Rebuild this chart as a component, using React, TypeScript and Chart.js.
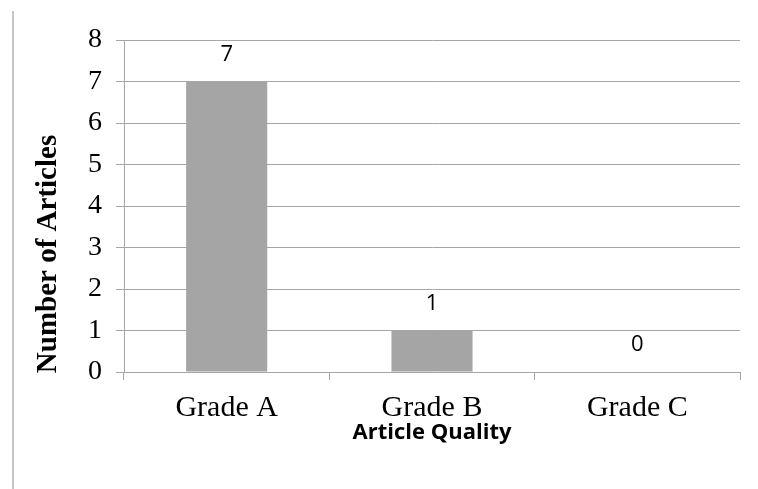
import React, { useEffect, useRef } from "react";
import { Chart, registerables } from "chart.js";

Chart.register(...registerables);

const categories = ["Grade A", "Grade B", "Grade C"];
const articleCounts = [7, 1, 0];
const yMin = 0;
const yMax = 8;
const yStep = 1;
const yAxisTitle = "Number of Articles";
const xAxisTitle = "Article Quality";

const GRID = "#a6a6a6";
const BAR = "#a5a5a5";

export default function App() {
  const ref = useRef<HTMLCanvasElement>(null);

  useEffect(() => {
    if (!ref.current) return;
    const overlay = {
      id: "overlay",
      afterDatasetsDraw(chart: any) {
        const ctx = chart.ctx;
        const area = chart.chartArea;
        ctx.save();
        // data labels
        const meta = chart.getDatasetMeta(0);
        ctx.font = '22px "Open Sans"';
        ctx.fillStyle = "#000";
        ctx.textAlign = "center";
        ctx.textBaseline = "middle";
        meta.data.forEach((bar: any, i: number) => {
          ctx.fillText(String(articleCounts[i]), bar.x, bar.y - 27);
        });
        // x title
        ctx.font = 'bold 22px "Open Sans"';
        ctx.fillText(xAxisTitle, (area.left + area.right) / 2, area.bottom + 61);
        // y title
        ctx.save();
        ctx.translate(area.left - 75, area.bottom - 118);
        ctx.rotate(-Math.PI / 2);
        ctx.font = 'bold 29px "Liberation Serif"';
        ctx.fillText(yAxisTitle, 0, 0);
        ctx.restore();
        // left border line
        ctx.strokeStyle = "#b3b3b3";
        ctx.lineWidth = 1.5;
        ctx.beginPath();
        ctx.moveTo(13, 11);
        ctx.lineTo(13, chart.height);
        ctx.stroke();
        ctx.restore();
      },
    };

    const chart = new Chart(ref.current, {
      type: "bar",
      data: {
        labels: categories,
        datasets: [
          {
            data: articleCounts,
            backgroundColor: BAR,
            borderWidth: 0,
            categoryPercentage: 1,
            barPercentage: 0.395,
          },
        ],
      },
      options: {
        responsive: false,
        animation: false,
        layout: { padding: { top: 40, right: 18, left: 0, bottom: 0 } },
        plugins: {
          legend: { display: false },
          tooltip: { enabled: false },
        },
        scales: {
          x: {
            grid: {
              offset: true,
              drawOnChartArea: false,
              drawTicks: true,
              tickLength: 8,
              color: GRID,
            },
            border: { display: true, color: GRID },
            ticks: {
              font: { family: "Liberation Serif", size: 30 },
              color: "#000",
              padding: 10,
            },
            afterFit: (s: any) => {
              s.height = 117;
            },
          },
          y: {
            min: yMin,
            max: yMax,
            grid: { color: GRID, tickLength: 8 },
            border: { display: true, color: GRID },
            ticks: {
              stepSize: yStep,
              font: { family: "Liberation Serif", size: 28 },
              color: "#000",
              padding: 14,
            },
            afterFit: (s: any) => {
              s.width = 124;
            },
          },
        },
      },
      plugins: [overlay],
    });
    return () => chart.destroy();
  }, []);

  return (
    <div style={{ position: "absolute", left: 0, top: 0, width: 758, height: 489, background: "#fff" }}>
      <canvas ref={ref} width={758} height={489} />
    </div>
  );
}
